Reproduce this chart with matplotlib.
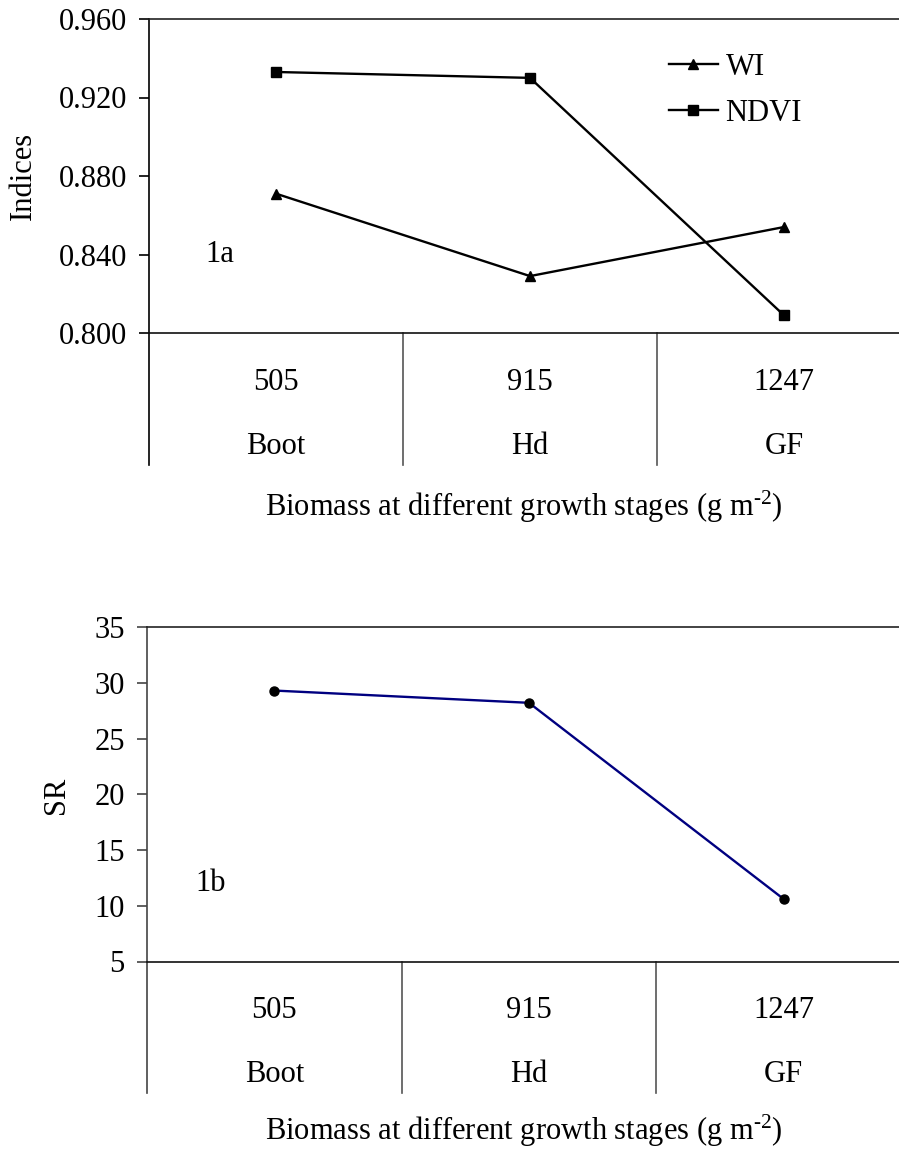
import matplotlib
matplotlib.use("Agg")
import matplotlib.pyplot as plt
from matplotlib.lines import Line2D

plt.rcParams['font.family'] = ['Liberation Serif', 'DejaVu Serif']
plt.rcParams['mathtext.fontset'] = 'custom'
plt.rcParams['mathtext.rm'] = 'Liberation Serif'
plt.rcParams['mathtext.it'] = 'Liberation Serif:italic'

# ---- data ----
biomass = ["505", "915", "1247"]
stages = ["Boot", "Hd", "GF"]
wi = [0.871, 0.829, 0.854]
ndvi = [0.933, 0.930, 0.809]
sr = [29.3, 28.2, 10.6]
top_yticks = [0.800, 0.840, 0.880, 0.920, 0.960]
bot_yticks = [5, 10, 15, 20, 25, 30, 35]
xlabel = "Biomass at different growth stages (g m$^{\\mathregular{\u2010}\\mathregular{2}}$)"

W, H = 899, 1152
FS = 22
fig = plt.figure(figsize=(W / 100, H / 100), dpi=100)

def frac_box(left, top, right, bottom):
    return [left / W, 1 - bottom / H, (right - left) / W, (bottom - top) / H]

def style_axes(ax, yticks, fmt, sep_bottom_px, row1_px, row2_px, ax_bottom_px, ax_h_px, spine_col):
    ax.set_xlim(-0.5, 2.5)
    ax.set_ylim(yticks[0], yticks[-1])
    ax.set_yticks(yticks)
    ax.set_yticklabels([fmt.format(v) for v in yticks], fontsize=FS)
    ax.set_xticks([])
    ax.spines['right'].set_visible(False)
    for s in ['left', 'top', 'bottom']:
        ax.spines[s].set_linewidth(1.2)
    ax.spines['left'].set_color(spine_col)
    ax.spines['top'].set_color('#222222')
    ax.spines['bottom'].set_color('#111111')
    ax.tick_params(axis='y', direction='out', length=7, width=1.2, pad=9, color=spine_col)
    tr = ax.get_xaxis_transform()
    ybot = -(sep_bottom_px - ax_bottom_px) / ax_h_px
    for i, xs in enumerate([-0.5, 0.5, 1.5, 2.5]):
        ax.add_line(Line2D([xs, xs], [0, ybot], transform=tr, clip_on=False,
                           color=spine_col if i == 0 else '#555555', lw=1.2))
    y1 = -(row1_px - ax_bottom_px) / ax_h_px
    y2 = -(row2_px - ax_bottom_px) / ax_h_px
    for i in range(len(biomass)):
        ax.text(i, y1, biomass[i], transform=tr, ha='center', va='center', fontsize=FS)
        ax.text(i, y2, stages[i], transform=tr, ha='center', va='center', fontsize=FS)

# ---- top chart ----
ax1 = fig.add_axes(frac_box(149, 19, 911, 333))
x = range(len(biomass))
ax1.plot(x, wi, color='black', lw=1.7, marker='^', ms=7, label='WI')
ax1.plot(x, ndvi, color='black', lw=1.7, marker='s', ms=6.5, label='NDVI')
style_axes(ax1, top_yticks, "{:.3f}", 465, 383, 447, 333, 314, 'black')
ax1.text(-0.22, 0.840, "1a", fontsize=FS, ha='center', va='center')
leg = ax1.legend(loc='upper left', bbox_to_anchor=((669 - 149) / 762, 1 - (53 - 19) / 314),
                 frameon=False, fontsize=FS, handlelength=1.6, handletextpad=0.25,
                 borderpad=0, borderaxespad=0, labelspacing=0.55)
fig.text(23 / W, 1 - 176 / H, "Indices", rotation=90, ha='center', va='center', fontsize=FS)
fig.text(524 / W, 1 - 507 / H, xlabel, ha='center', va='center', fontsize=FS)

# ---- bottom chart ----
ax2 = fig.add_axes(frac_box(147, 627, 911, 961.5))
ax2.plot(x, sr, color='#000080', lw=1.7, marker='o', ms=6.5, mfc='black', mec='black')
style_axes(ax2, bot_yticks, "{:d}", 1093, 1010, 1075, 961.5, 334.5, '#444444')
ax2.text(-0.25, 12.0, "1b", fontsize=FS, ha='center', va='center')
fig.text(57 / W, 1 - 795 / H, "SR", rotation=90, ha='center', va='center', fontsize=FS)
fig.text(524 / W, 1 - 1131 / H, xlabel, ha='center', va='center', fontsize=FS)

fig.savefig("out.png", dpi=100)
